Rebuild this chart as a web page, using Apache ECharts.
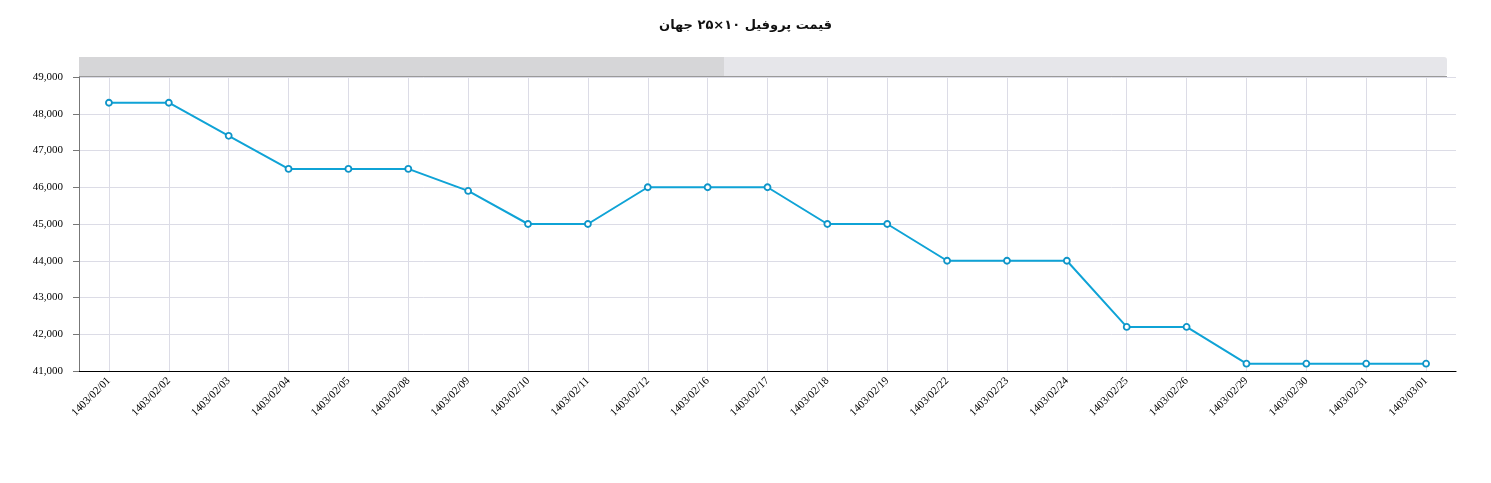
<!DOCTYPE html>
<html>
<head>
<meta charset="UTF-8">
<title>profile price</title>
<script src="https://cdn.jsdelivr.net/npm/echarts@6/dist/echarts.min.js"></script>
<style>
  html, body { margin: 0; padding: 0; background: #fff; }
  #main { width: 1491px; height: 483px; }
</style>
</head>
<body>
<div id="main"></div>
<script>
// dates (solar calendar) and prices
var dates = ['1403/02/01', '1403/02/02', '1403/02/03', '1403/02/04', '1403/02/05', '1403/02/08',
  '1403/02/09', '1403/02/10', '1403/02/11', '1403/02/12', '1403/02/16', '1403/02/17',
  '1403/02/18', '1403/02/19', '1403/02/22', '1403/02/23', '1403/02/24', '1403/02/25',
  '1403/02/26', '1403/02/29', '1403/02/30', '1403/02/31', '1403/03/01'];
var prices = [48300, 48300, 47400, 46500, 46500, 46500,
  45900, 45000, 45000, 46000, 46000, 46000,
  45000, 45000, 44000, 44000, 44000, 42200,
  42200, 41200, 41200, 41200, 41200];
var yMin = 41000, yMax = 49000, yStep = 1000;

var myChart = echarts.init(document.getElementById('main'));

var labelFont = {
  fontFamily: '"Liberation Serif", "DejaVu Serif", serif',
  fontSize: 11,
  color: '#000'
};

option = {
  animation: false,
  title: {
    text: 'قیمت پروفیل ۱۰×۲۵ جهان',
    left: 'center',
    top: 14,
    textStyle: {
      fontFamily: '"DejaVu Sans", sans-serif',
      fontWeight: 'bold',
      fontSize: 13,
      color: '#111'
    }
  },
  // the grey scroll bar above the plot
  graphic: [
    { type: 'rect', shape: { x: 79, y: 57, width: 645, height: 19 },
      style: { fill: '#d6d6d8' }, silent: true },
    { type: 'rect', shape: { x: 724, y: 57, width: 723, height: 19, r: [0, 3, 3, 0] },
      style: { fill: '#e6e6ea' }, silent: true },
    { type: 'line', shape: { x1: 79, y1: 76.5, x2: 1447, y2: 76.5 },
      style: { stroke: '#9a9a9a', lineWidth: 1 }, silent: true }
  ],
  grid: {
    top: 77,
    bottom: 112,
    left: 79,
    right: 35
  },
  xAxis: {
    type: 'category',
    boundaryGap: true,
    data: dates,
    axisLine: { lineStyle: { color: '#000', width: 1.2 } },
    axisTick: { alignWithLabel: true, length: 5, lineStyle: { color: '#999' } },
    axisLabel: Object.assign({ rotate: 45, margin: 8, interval: 0 }, labelFont),
    splitLine: { show: true, alignWithLabel: true, lineStyle: { color: '#dcdce6' } }
  },
  yAxis: {
    type: 'value',
    min: yMin,
    max: yMax,
    interval: yStep,
    axisLine: { show: true, lineStyle: { color: '#777' } },
    axisTick: { show: true, length: 6, lineStyle: { color: '#777' } },
    axisLabel: Object.assign({
      margin: 16,
      formatter: function (v) { return v.toLocaleString('en-US'); }
    }, labelFont),
    splitLine: { lineStyle: { color: '#dcdce6' } }
  },
  series: [
    {
      name: 'price',
      type: 'line',
      data: prices,
      symbol: 'circle',
      symbolSize: 6,
      showAllSymbol: true,
      lineStyle: { color: '#0fa3d6', width: 2 },
      itemStyle: { color: '#fff', borderColor: '#0f95c8', borderWidth: 1.8 }
    }
  ]
};
myChart.setOption(option);
</script>
</body>
</html>
